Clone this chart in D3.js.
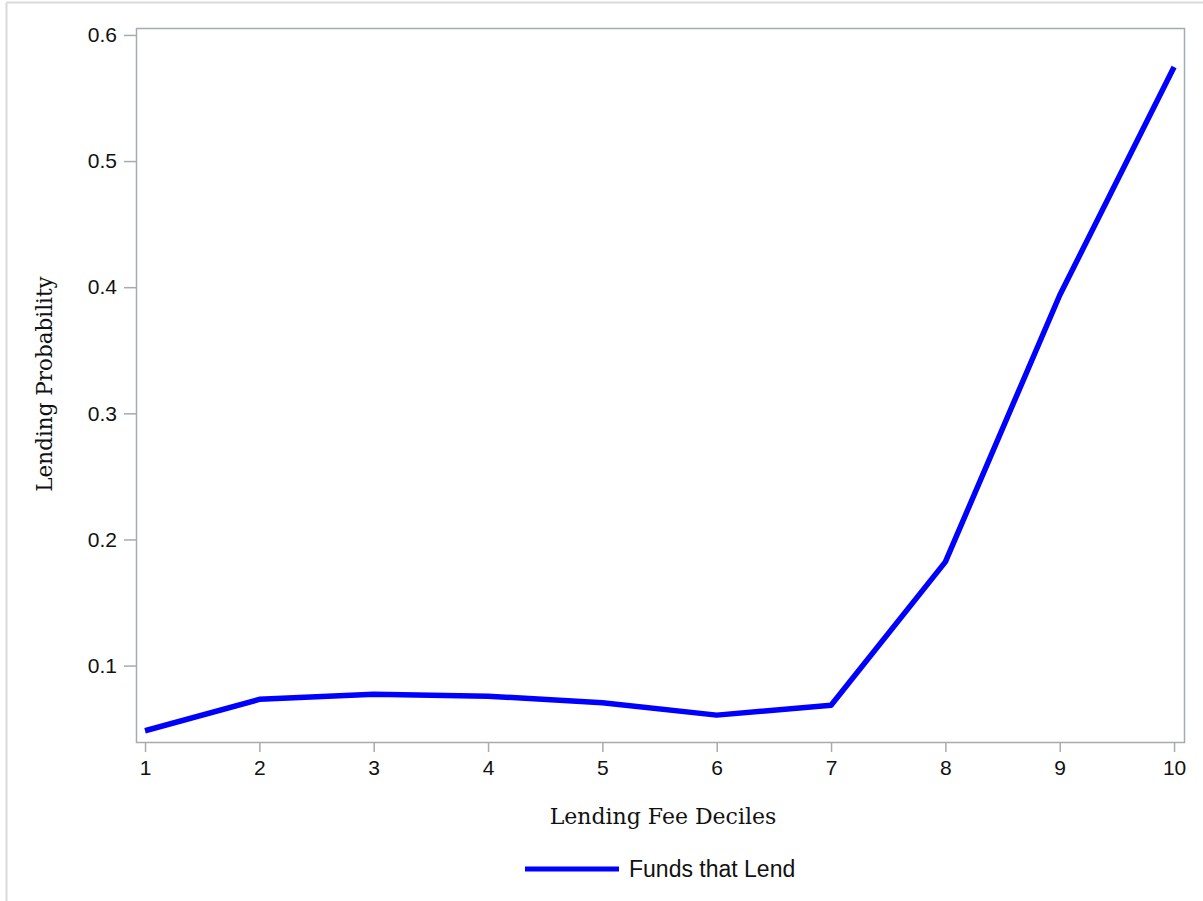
<!DOCTYPE html>
<html>
<head>
<meta charset="utf-8">
<script src="https://cdn.jsdelivr.net/npm/d3@7"></script>
<style>
  html, body { margin: 0; padding: 0; background: #fff; }
  svg { display: block; }
</style>
</head>
<body>
<svg id="chart" width="1203" height="901"></svg>
<script>
const deciles = [1, 2, 3, 4, 5, 6, 7, 8, 9, 10];
const lendingProbability = [0.0483, 0.0732, 0.0773, 0.0757, 0.0705, 0.0607, 0.0686, 0.1822, 0.3936, 0.5746];
const yTicks = [0.1, 0.2, 0.3, 0.4, 0.5, 0.6];
const xTitle = "Lending Fee Deciles";
const yTitle = "Lending Probability";
const seriesName = "Funds that Lend";

const svg = d3.select("#chart");
const frame = { left: 136, top: 28, right: 1184, bottom: 742 };
const axisColor = "#a7abaf";
const textColor = "#111";

// outer light border (top & left)
svg.append("line").attr("x1", 6.5).attr("x2", 1203).attr("y1", 2.5).attr("y2", 2.5)
  .attr("stroke", "#d9d9d9").attr("stroke-width", 2);
svg.append("line").attr("x1", 6.5).attr("x2", 6.5).attr("y1", 2.5).attr("y2", 901)
  .attr("stroke", "#d9d9d9").attr("stroke-width", 2);

const x = d3.scaleLinear().domain([0.921, 10.087]).range([frame.left, frame.right]);
const y = d3.scaleLinear().domain([0.0394, 0.6055]).range([frame.bottom, frame.top]);

// plot frame
svg.append("rect")
  .attr("x", frame.left + 0.5).attr("y", frame.top + 0.5)
  .attr("width", frame.right - frame.left).attr("height", frame.bottom - frame.top)
  .attr("fill", "none").attr("stroke", axisColor).attr("stroke-width", 1.5);

// y axis
const yAxis = svg.append("g").attr("transform", `translate(${frame.left},0)`)
  .call(d3.axisLeft(y).tickValues(yTicks).tickFormat(d3.format(".1f")).tickSize(12).tickPadding(7));
yAxis.select(".domain").remove();
yAxis.selectAll(".tick line").attr("stroke", axisColor).attr("stroke-width", 1.5);
yAxis.selectAll(".tick text").attr("fill", textColor)
  .style("font-family", "'Liberation Sans', Arial, sans-serif").style("font-size", "21px");

// x axis
const xAxis = svg.append("g").attr("transform", `translate(0,${frame.bottom})`)
  .call(d3.axisBottom(x).tickValues(deciles).tickFormat(d3.format("d")).tickSize(10).tickPadding(8));
xAxis.select(".domain").remove();
xAxis.selectAll(".tick line").attr("stroke", axisColor).attr("stroke-width", 1.5);
xAxis.selectAll(".tick text").attr("fill", textColor)
  .style("font-family", "'Liberation Sans', Arial, sans-serif").style("font-size", "21px");

// line
const line = d3.line().x((d, i) => x(deciles[i])).y(d => y(d));
svg.append("path").datum(lendingProbability)
  .attr("d", line).attr("fill", "none").attr("stroke", "#0000ff")
  .attr("stroke-width", 5.5).attr("stroke-linejoin", "round").attr("stroke-linecap", "butt");

// axis titles
svg.append("text").attr("x", 663).attr("y", 824).attr("text-anchor", "middle")
  .attr("fill", textColor)
  .style("font-family", "'DejaVu Serif', serif").style("font-size", "22px")
  .text(xTitle);
svg.append("text").attr("transform", "translate(52,384) rotate(-90)").attr("text-anchor", "middle")
  .attr("fill", textColor)
  .style("font-family", "'DejaVu Serif', serif").style("font-size", "21.5px")
  .text(yTitle);

// legend
svg.append("line").attr("x1", 525).attr("x2", 619).attr("y1", 869).attr("y2", 869)
  .attr("stroke", "#0000ff").attr("stroke-width", 5);
svg.append("text").attr("x", 629).attr("y", 877).attr("fill", textColor)
  .style("font-family", "'Liberation Sans', Arial, sans-serif").style("font-size", "23px")
  .text(seriesName);
</script>
</body>
</html>
